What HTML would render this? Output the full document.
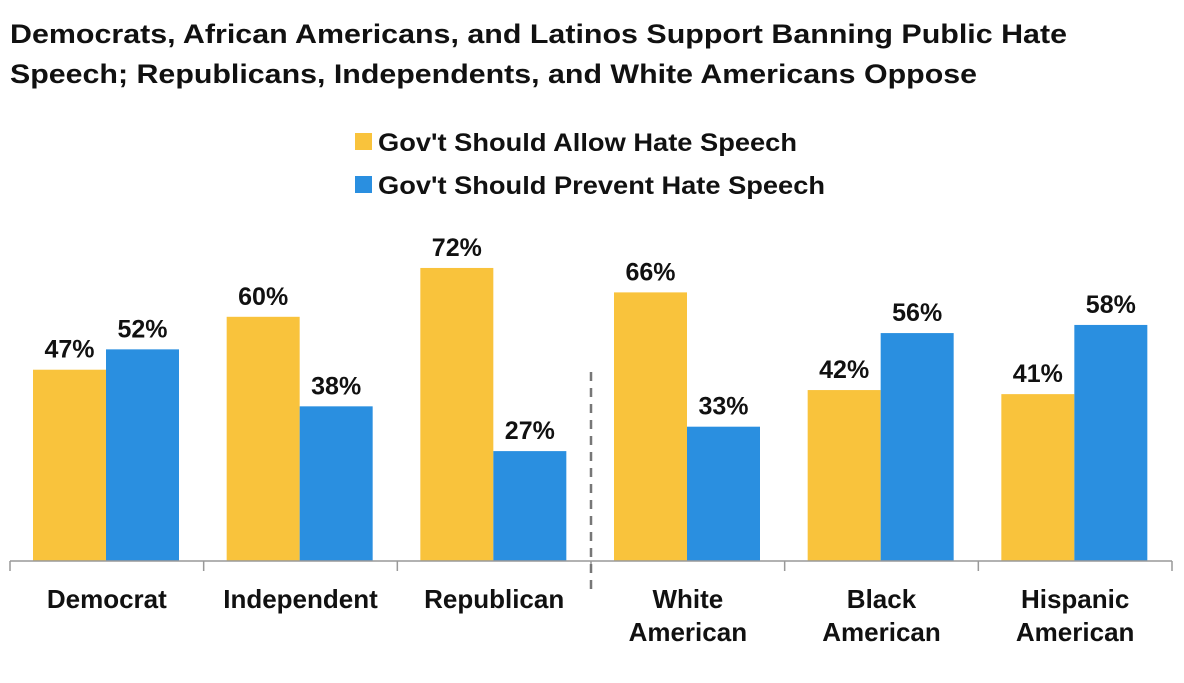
<!DOCTYPE html>
<html><head><meta charset="utf-8"><style>
body{margin:0;background:#fff;width:1184px;height:678px;overflow:hidden;font-family:"Liberation Sans",sans-serif;}
</style></head><body>
<svg width="1184" height="678" xmlns="http://www.w3.org/2000/svg" font-family="Liberation Sans, sans-serif" font-weight="bold" fill="#111">
<text x="10" y="43" font-size="27" textLength="1057" lengthAdjust="spacingAndGlyphs">Democrats, African Americans, and Latinos Support Banning Public Hate</text>
<text x="10" y="83" font-size="27" textLength="967" lengthAdjust="spacingAndGlyphs">Speech; Republicans, Independents, and White Americans Oppose</text>
<rect x="355" y="133" width="17" height="17" fill="#F9C33C"/>
<text x="378" y="151" font-size="25" textLength="419" lengthAdjust="spacingAndGlyphs">Gov't Should Allow Hate Speech</text>
<rect x="355" y="176" width="17" height="17" fill="#2A8FE0"/>
<text x="378" y="194" font-size="25" textLength="447" lengthAdjust="spacingAndGlyphs">Gov't Should Prevent Hate Speech</text>
<g id="plot"></g>
</svg>
<script>
const categories=[["Democrat"],["Independent"],["Republican"],["White","American"],["Black","American"],["Hispanic","American"]];
const allowValues=[47,60,72,66,42,41];
const preventValues=[52,38,27,33,56,58];
const NS="http://www.w3.org/2000/svg";
const g=document.getElementById("plot");
const x0=10,x1=1172,base=561,scale=4.07;
const gw=(x1-x0)/categories.length;
const y=v=>base-v*scale;
function mk(t,a){const e=document.createElementNS(NS,t);for(const k in a)e.setAttribute(k,a[k]);g.appendChild(e);return e;}
categories.forEach((c,i)=>{
 const gx=x0+i*gw;
 [[allowValues[i],"#F9C33C","allow"],[preventValues[i],"#2A8FE0","prevent"]].forEach(([v,col,n],j)=>{
  const bx=gx+23+j*73;
  const r=mk("rect",{x:bx,y:y(v),width:73,height:v*scale,fill:col});
  
  
  const t=mk("text",{x:bx+36.5,y:y(v)-12,"font-size":25,"text-anchor":"middle"});
  t.textContent=v+"%";
  
  
 });
 c.forEach((ln,k)=>{
  const t=mk("text",{x:gx+gw/2,y:608+k*33,"font-size":26,"text-anchor":"middle"});
  t.textContent=ln;
  
  
 });
});
for(let i=0;i<=categories.length;i++){
 const tk=mk("line",{x1:x0+i*gw,x2:x0+i*gw,y1:base,y2:base+10,stroke:"#999","stroke-width":1.5});
 
 
}
const ax=mk("line",{x1:x0,x2:x1,y1:base,y2:base,stroke:"#999","stroke-width":1.5});


const dl=mk("line",{x1:x0+3*gw,x2:x0+3*gw,y1:372,y2:592,stroke:"#777","stroke-width":2.5,"stroke-dasharray":"9,7"});


</script>
</body></html>
